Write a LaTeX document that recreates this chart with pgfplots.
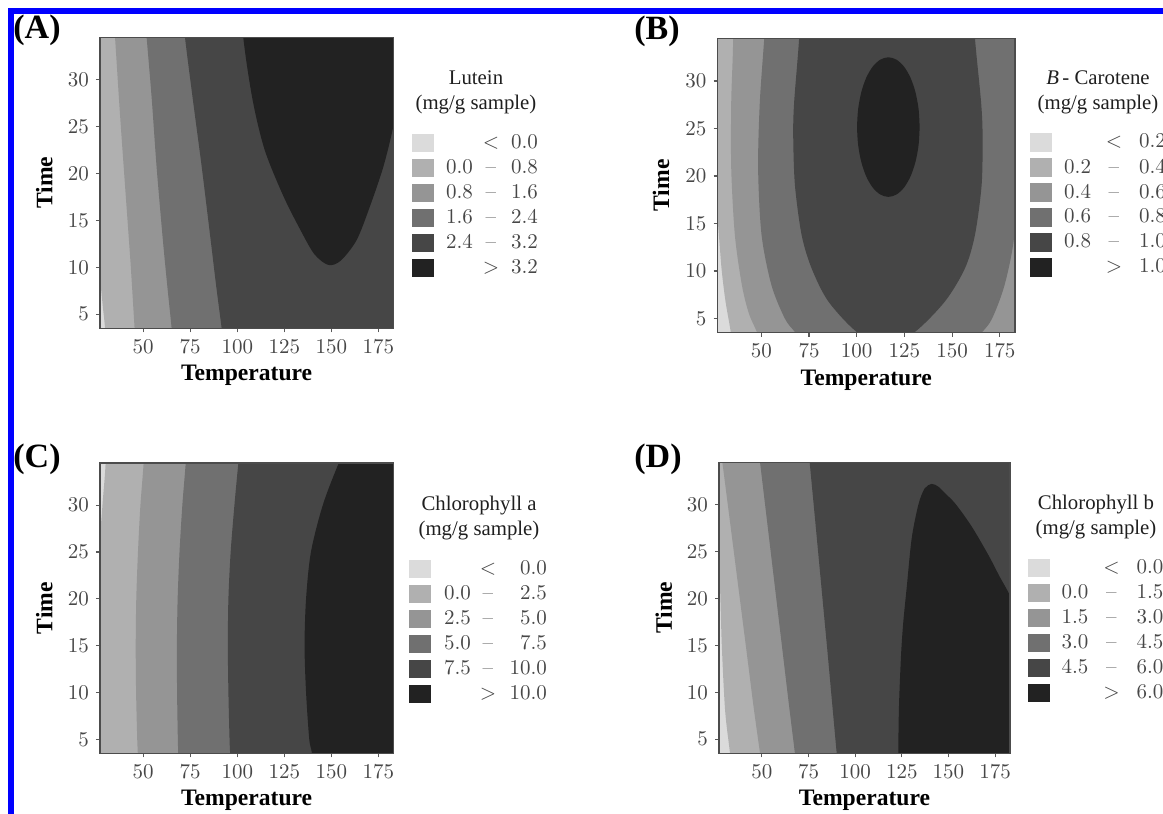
\documentclass[border=0pt]{standalone}
\usepackage{fontspec}
\usepackage{pgfplots}
\pgfplotsset{compat=1.18}
\newfontfamily\tnr{Liberation Serif}

\definecolor{g0}{gray}{0.86}
\definecolor{g1}{gray}{0.69}
\definecolor{g2}{gray}{0.585}
\definecolor{g3}{gray}{0.44}
\definecolor{g4}{gray}{0.275}
\definecolor{g5}{gray}{0.135}

\newlength\lgw \newlength\lgd \newlength\lgr
\newcommand{\lgent}[3]{\makebox[\lgw][r]{#1}\makebox[\lgd][c]{#2}\makebox[\lgr][r]{#3}}

\pgfplotsset{
  rsm/.style={
    scale only axis, anchor=north west,
    xmin=27, xmax=183, ymin=3.5, ymax=34.5,
    axis on top, no marks,
    xtick={50,75,100,125,150,175}, ytick={5,10,15,20,25,30},
    xtick pos=left, ytick pos=left, tick align=outside,
    major tick length=2pt,
    every tick/.style={black!65, line width=0.55pt},
    axis line style={black!70, line width=0.55pt},
    /pgf/number format/assume math mode=true,
    ticklabel style={font=\fontsize{10.5}{12}\selectfont, text=black!72},
    xlabel={Temperature}, ylabel={Time},
    label style={font=\tnr\bfseries\fontsize{11.8}{13}\selectfont},
    xlabel style={at={(axis description cs:0.5,-0.162)}, anchor=center},
    ylabel style={at={(axis description cs:-0.19,0.5)}, anchor=center},
    legend image code/.code={\fill[##1, draw=none] (0pt,-4.6pt) rectangle (11pt,4.6pt);},
    legend cell align=left,
    legend style={draw=none, fill=none, inner sep=0pt, outer sep=0pt,
      row sep=3.3pt, column sep=2pt, nodes={inner sep=0pt},
      font=\fontsize{10.5}{12}\selectfont, text=black!72},
  }
}
\tikzset{
  ttl/.style={font=\tnr\fontsize{10.4}{12.5}\selectfont, align=center, text=black!88},
  pnl/.style={font=\tnr\bfseries\fontsize{17}{19}\selectfont, text=black}
}

\begin{document}
\begin{tikzpicture}
\path[use as bounding box] (0,0) rectangle (581.5pt,-407pt);
\fill[blue] (4pt,-407pt) rectangle (7pt,-4pt);
\fill[blue] (4pt,-7pt) rectangle (581.5pt,-4pt);

% (A) Lutein
\setlength\lgw{17.5pt}\setlength\lgd{18pt}\setlength\lgr{14.5pt}
\begin{axis}[rsm, at={(50pt,-18.65pt)}, width=146.65pt, height=145.5pt,
  legend style={at={(axis description cs:1.0637,0.6677)}, anchor=north west}]
\addplot[fill=g0, draw=none, forget plot] coordinates {(0,0) (250,0) (250,50) (0,50)};
\addplot[fill=g1, draw=none, smooth, forget plot] coordinates {(25,14) (27,9) (28.4,6) (29.7,3.5) (30.8,0) (250,-10) (250,60) (20,60) (20,20)};
\addplot[fill=g2, draw=none, smooth, forget plot] coordinates {(33.2,40) (35.0,34.5) (37.4,27) (39.6,20.7) (42.0,14) (43.4,10) (45.4,3.5) (46.5,0) (250,-10) (250,60) (30,60)};
\addplot[fill=g3, draw=none, smooth, forget plot] coordinates {(49.5,40) (51.8,34.5) (54.5,28) (57.1,20.7) (60.4,13) (62.8,8) (65.1,3.5) (66.5,0) (250,-10) (250,60) (46,60)};
\addplot[fill=g4, draw=none, smooth, forget plot] coordinates {(69.5,40) (72.2,34.5) (76.3,28) (81.1,20.7) (85.8,13) (88.8,8) (91.7,3.5) (93.6,0) (250,-10) (250,60) (66,60)};
\addplot[fill=g5, draw=none, smooth, forget plot] coordinates {(100.5,42) (103.2,34.5) (108.2,27.8) (114.6,22.5) (124.5,17.6) (133.8,13.9) (141,11.4) (148.4,10.25) (155,10.7) (163.5,12.9) (170.6,16.5) (177.7,20.7) (183,25.0) (187,29.5) (192,45)};
\addlegendimage{fill=g0}\addlegendentry{\lgent{}{<}{0.0}}
\addlegendimage{fill=g1}\addlegendentry{\lgent{0.0}{--}{0.8}}
\addlegendimage{fill=g2}\addlegendentry{\lgent{0.8}{--}{1.6}}
\addlegendimage{fill=g3}\addlegendentry{\lgent{1.6}{--}{2.4}}
\addlegendimage{fill=g4}\addlegendentry{\lgent{2.4}{--}{3.2}}
\addlegendimage{fill=g5}\addlegendentry{\lgent{}{>}{3.2}}
\end{axis}

% (B) beta-carotene
\setlength\lgw{17.5pt}\setlength\lgd{23pt}\setlength\lgr{14.5pt}
\begin{axis}[rsm, at={(358.75pt,-19.15pt)}, width=148.75pt, height=147.2pt,
  legend style={at={(axis description cs:1.0504,0.6773)}, anchor=north west}]
\addplot[fill=g0, draw=none, forget plot] coordinates {(0,0) (250,0) (250,50) (0,50)};
\addplot[fill=g1, draw=none, smooth, forget plot] coordinates {(24,20) (27,15.5) (29.1,10.3) (31.2,6.8) (34.0,3.5) (36,0) (250,-10) (250,60) (10,60) (10,25)};
\addplot[fill=g2, draw=none, smooth, forget plot] coordinates {(34.6,42) (35.2,34.5) (34.2,27.8) (34.2,20.8) (36.1,13.8) (39.8,8.5) (43.5,5.5) (47.8,3.5) (53,0.5) (250,-10) (250,60) (30,60)};
\addplot[fill=g3, draw=none, smooth, forget plot] coordinates {(116,46) (53,40) (51.5,34.5) (49.2,27.8) (48.3,20.8) (50.1,13.8) (55.3,8.5) (62.3,5.0) (67.9,3.5) (80,0.5) (116,-1.5) (152,0.5) (165.5,3.5) (171,5.0) (177.5,8.5) (182.5,13.5) (184.5,20.8) (184,27.8) (184,34.5) (182,40)};
\addplot[fill=g4, draw=none, smooth, forget plot] coordinates {(116,46) (70.8,40) (69.8,34.5) (67.2,27.8) (66.7,24.3) (67.6,19.05) (71.1,13.8) (76.3,10.3) (85.1,6.8) (100.5,3.5) (115.5,2.3) (130,3.5) (146.3,6.8) (156.8,10.3) (162.0,13.8) (165.5,19.05) (166.0,24.3) (165.2,27.8) (162.0,34.5) (160.5,40)};
\addplot[fill=g5, draw=none, smooth, forget plot] coordinates {(133.0,25.15) (132.44,27.05) (130.80,28.83) (128.20,30.35) (124.80,31.52) (120.84,32.25) (116.6,32.50) (112.36,32.25) (108.40,31.52) (105.00,30.35) (102.40,28.83) (100.76,27.05) (100.20,25.15) (100.76,23.25) (102.40,21.48) (105.00,19.95) (108.40,18.78) (112.36,18.05) (116.6,17.80) (120.84,18.05) (124.80,18.78) (128.20,19.95) (130.80,21.48) (132.44,23.25) (133.0,25.15)};
\addlegendimage{fill=g0}\addlegendentry{\lgent{}{<}{0.2}}
\addlegendimage{fill=g1}\addlegendentry{\lgent{0.2}{--}{0.4}}
\addlegendimage{fill=g2}\addlegendentry{\lgent{0.4}{--}{0.6}}
\addlegendimage{fill=g3}\addlegendentry{\lgent{0.6}{--}{0.8}}
\addlegendimage{fill=g4}\addlegendentry{\lgent{0.8}{--}{1.0}}
\addlegendimage{fill=g5}\addlegendentry{\lgent{}{>}{1.0}}
\end{axis}

% (C) chlorophyll a
\setlength\lgw{17.75pt}\setlength\lgd{17pt}\setlength\lgr{21pt}
\begin{axis}[rsm, at={(50pt,-231.5pt)}, width=146.65pt, height=145.15pt,
  legend style={at={(axis description cs:1.0552,0.6669)}, anchor=north west}]
\addplot[fill=g0, draw=none, forget plot] coordinates {(0,0) (250,0) (250,50) (0,50)};
\addplot[fill=g1, draw=none, smooth, forget plot] coordinates {(31.5,42) (30,34.5) (28.5,30.5) (27,26.5) (25,21) (20,15) (20,-10) (250,-10) (250,60) (33,60)};
\addplot[fill=g2, draw=none, smooth, forget plot] coordinates {(51.5,40) (50.2,34.5) (48.5,30) (47.2,25) (46.3,20) (46.0,15) (46.2,10) (46.8,5) (47.1,3.5) (47.5,0) (250,-10) (250,60) (50,60)};
\addplot[fill=g3, draw=none, smooth, forget plot] coordinates {(74.5,40) (72.6,34.5) (70.8,30) (69.3,25) (68.3,20) (67.9,15) (68.0,10) (68.4,5) (68.6,3.5) (69,0) (250,-10) (250,60) (74,60)};
\addplot[fill=g4, draw=none, smooth, forget plot] coordinates {(103.5,40) (100.6,34.5) (98.5,30) (96.5,25) (95.3,20) (95.0,15) (95.3,10) (95.9,5) (96.2,3.5) (96.8,0) (250,-10) (250,60) (103,60)};
\addplot[fill=g5, draw=none, smooth, forget plot] coordinates {(166,40) (154,34.5) (145.5,30) (139.2,25) (136.6,20) (135.8,15) (136.6,10) (138.3,5) (139.7,3.5) (141,0) (250,-10) (250,60) (166,60)};
\addlegendimage{fill=g0}\addlegendentry{\lgent{}{<}{0.0}}
\addlegendimage{fill=g1}\addlegendentry{\lgent{0.0}{--}{2.5}}
\addlegendimage{fill=g2}\addlegendentry{\lgent{2.5}{--}{5.0}}
\addlegendimage{fill=g3}\addlegendentry{\lgent{5.0}{--}{7.5}}
\addlegendimage{fill=g4}\addlegendentry{\lgent{7.5}{--}{10.0}}
\addlegendimage{fill=g5}\addlegendentry{\lgent{}{>}{10.0}}
\end{axis}

% (D) chlorophyll b
\setlength\lgw{17.2pt}\setlength\lgd{23pt}\setlength\lgr{14.5pt}
\begin{axis}[rsm, at={(359.5pt,-231.15pt)}, width=145.5pt, height=145.5pt,
  legend style={at={(axis description cs:1.0619,0.6684)}, anchor=north west}]
\addplot[fill=g0, draw=none, forget plot] coordinates {(0,0) (250,0) (250,50) (0,50)};
\addplot[fill=g1, draw=none, smooth, forget plot] coordinates {(24,31) (27,24) (28.5,15) (30.3,8) (32.9,3.5) (34.5,0) (250,-10) (250,60) (20,60) (20,35)};
\addplot[fill=g2, draw=none, smooth, forget plot] coordinates {(25.2,40) (28.8,34.5) (33,28) (37.5,21) (42,14) (45.5,8.5) (49,3.5) (51.5,0) (250,-10) (250,60) (24,60)};
\addplot[fill=g3, draw=none, smooth, forget plot] coordinates {(45.7,40) (49,34.5) (52.9,28) (57.1,21) (61.3,14) (64.6,8.5) (67.7,3.5) (69.8,0) (250,-10) (250,60) (45,60)};
\addplot[fill=g4, draw=none, smooth, forget plot] coordinates {(73,40) (75.6,34.5) (78.7,28) (82,21) (85.3,14) (87.8,8.5) (90.1,3.5) (91.8,0) (250,-10) (250,60) (72,60)};
\addplot[fill=g5, draw=none, smooth, forget plot] coordinates {(122.8,-5) (123.1,3.5) (123.5,8.6) (124.6,14.0) (125.8,17.5) (127.6,21.1) (130.3,26.4) (133.9,30.0) (137.2,31.7) (141.0,32.2) (144.6,31.9) (148.2,31.2) (152.8,30.3) (157.1,29.2) (162,27.8) (166.0,26.5) (172.3,24.3) (177.5,22.3) (183,20.3) (190,17) (195,-5)};
\addlegendimage{fill=g0}\addlegendentry{\lgent{}{<}{0.0}}
\addlegendimage{fill=g1}\addlegendentry{\lgent{0.0}{--}{1.5}}
\addlegendimage{fill=g2}\addlegendentry{\lgent{1.5}{--}{3.0}}
\addlegendimage{fill=g3}\addlegendentry{\lgent{3.0}{--}{4.5}}
\addlegendimage{fill=g4}\addlegendentry{\lgent{4.5}{--}{6.0}}
\addlegendimage{fill=g5}\addlegendentry{\lgent{}{>}{6.0}}
\end{axis}

% legend titles and panel letters
\node[ttl] at (238pt,-46.25pt) {Lutein\\(mg/g sample)};
\node[ttl] at (549pt,-46.25pt) {\textit{B}\,- Carotene\\(mg/g sample)};
\node[ttl] at (239.5pt,-259pt) {Chlorophyll a\\(mg/g sample)};
\node[ttl] at (548pt,-258.75pt) {Chlorophyll b\\(mg/g sample)};
\node[pnl] at (18.5pt,-15pt) {(A)};
\node[pnl] at (328.5pt,-15.5pt) {(B)};
\node[pnl] at (18.5pt,-229.5pt) {(C)};
\node[pnl] at (329pt,-229.5pt) {(D)};
\end{tikzpicture}
\end{document}
